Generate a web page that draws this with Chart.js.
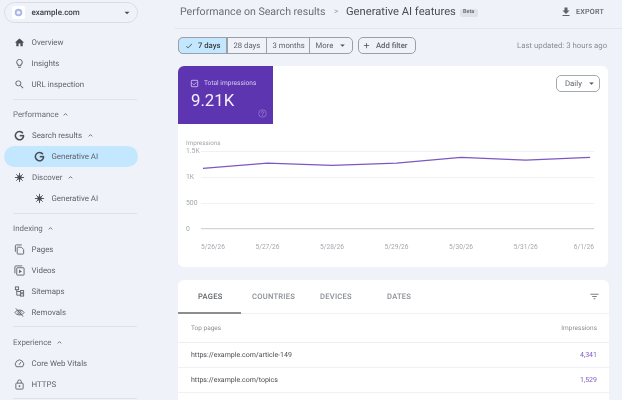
<!DOCTYPE html>
<html>
<head>
<meta charset="utf-8">
<title>Generative AI features</title>
<script src="https://cdn.jsdelivr.net/npm/chart.js@4"></script>
<style>
html, body { margin: 0; padding: 0; }
body { width: 622px; height: 400px; overflow: hidden; position: relative; background: #eff3f9; font-family: Roboto, sans-serif; color: #5f6368; text-rendering: geometricPrecision; }
#page { position: absolute; left: 0; top: 0; width: 622px; height: 400px; overflow: hidden; filter: blur(0.35px); }
.t { position: absolute; white-space: nowrap; line-height: 1; transform: translateY(-50%); }
.box { position: absolute; box-sizing: border-box; }
svg { position: absolute; }
</style>
</head>
<body>
<div id="page"></div>
<script>
// Chart data
const dates = ["5/26/26", "5/27/26", "5/28/26", "5/29/26", "5/30/26", "5/31/26", "6/1/26"];
const impressions = [1177, 1280, 1235, 1280, 1390, 1338, 1390];
const yTicks = [0, 500, 1000, 1500];
const yLabels = ["0", "500", "1K", "1.5K"];

// Page text
const navItems = [
  ["Overview", 31.5, 42.5, "home", 19], ["Insights", 31.5, 63.5, "bulb", 19], ["URL inspection", 31.5, 84.5, "search", 19],
  ["Performance", 13, 114.5], ["Search results", 32, 135.5, "g", 19], ["Generative AI", 51.5, 156.5, "g", 39],
  ["Discover", 32, 177.5, "star", 19], ["Generative AI", 51.5, 198.5, "star", 39],
  ["Indexing", 13, 228.5], ["Pages", 31.5, 249.5, "pages", 19], ["Videos", 31.5, 270.5, "video", 19],
  ["Sitemaps", 31.5, 291.5, "map", 19], ["Removals", 31.5, 312.5, "eye", 19],
  ["Experience", 13, 342.5], ["Core Web Vitals", 31.5, 363.5, "gauge", 19], ["HTTPS", 31.5, 384.5, "lock", 19]
];
const navCarets = [[65, 114], [90, 135], [70, 177], [50, 228], [59, 342]];
const navDividers = [99, 213, 326, 398];
const rangeChips = [["7 days", 178, 49], ["28 days", 227, 39], ["3 months", 266, 43], ["More", 309, 44]];
const tabs = [["PAGES", 198, "#5f6368"], ["COUNTRIES", 252, "#8a8e93"], ["DEVICES", 320, "#8a8e93"], ["DATES", 387, "#8a8e93"]];
const pageRows = [["https://example.com/article-149", "4,341", 355], ["https://example.com/topics", "1,529", 380]];

const icons = {
  home: '<path fill="#4a4d51" d="M10 20v-6h4v6h5v-8h3L12 3 2 12h3v8z"/>',
  bulb: '<path fill="#5f6368" d="M9 21c0 .55.45 1 1 1h4c.55 0 1-.45 1-1v-1H9v1zm3-19C8.14 2 5 5.14 5 9c0 2.38 1.19 4.47 3 5.74V17c0 .55.45 1 1 1h6c.55 0 1-.45 1-1v-2.26c1.81-1.27 3-3.36 3-5.74 0-3.86-3.14-7-7-7zm2.85 11.1l-.85.6V16h-4v-2.3l-.85-.6C7.8 12.16 7 10.63 7 9c0-2.76 2.24-5 5-5s5 2.24 5 5c0 1.63-.8 3.16-2.15 4.1z"/>',
  search: '<path fill="#5f6368" d="M15.5 14h-.79l-.28-.27C15.41 12.59 16 11.11 16 9.5 16 5.91 13.09 3 9.5 3S3 5.91 3 9.5 5.91 16 9.5 16c1.61 0 3.09-.59 4.23-1.57l.27.28v.79l5 4.99L20.49 19l-4.99-5zm-6 0C7.01 14 5 11.99 5 9.5S7.01 5 9.5 5 14 7.01 14 9.5 11.99 14 9.5 14z"/>',
  g: '<path fill="none" stroke="#4a4d51" stroke-width="3.4" d="M19.4 7.2A9 9 0 1 0 21 12.6"/><path fill="none" stroke="#4a4d51" stroke-width="3.4" d="M12.5 12.3H22"/>',
  star: '<g stroke="#4a4d51" stroke-width="2" fill="none"><path d="M12 2v20M2 12h20M5 5l14 14M19 5L5 19"/></g><circle cx="12" cy="12" r="5" fill="#4a4d51"/>',
  pages: '<g fill="none" stroke="#5f6368" stroke-width="2"><path d="M17 2H5a2 2 0 0 0-2 2v13"/><path d="M8 7h8l5 5v9a1 1 0 0 1-1 1H8a1 1 0 0 1-1-1V8a1 1 0 0 1 1-1z"/></g>',
  video: '<g fill="none" stroke="#5f6368" stroke-width="2"><path d="M18 2H4a2 2 0 0 0-2 2v14"/><rect x="6" y="6" width="16" height="16" rx="1"/></g><path fill="#5f6368" d="M11 10v8l6-4z"/>',
  map: '<g fill="none" stroke="#5f6368" stroke-width="2"><rect x="3" y="2" width="7" height="6"/><rect x="14" y="10" width="7" height="5"/><rect x="14" y="17" width="7" height="5"/><path d="M6 8v12h8M6 12h8"/></g>',
  eye: '<g fill="none" stroke="#5f6368" stroke-width="2"><path d="M2 12c4-7 16-7 20 0-4 7-16 7-20 0z"/><circle cx="12" cy="12" r="3.5"/><path d="M4 3l16 18"/></g>',
  gauge: '<g fill="none" stroke="#5f6368" stroke-width="2"><path d="M5 19h14a9 9 0 1 0-14 0z"/><path d="M11 15l4-6"/></g>',
  lock: '<g fill="none" stroke="#5f6368" stroke-width="2"><rect x="4" y="9" width="16" height="13" rx="1.5"/><path d="M8 9V6a4 4 0 0 1 8 0v3"/></g><circle cx="12" cy="15.5" r="2" fill="#5f6368"/>',
  caret: '<path fill="none" stroke="#5f6368" stroke-width="3" d="M6 15l6-6 6 6"/>',
  down: '<path fill="#4a4d51" d="M6 9l6 6 6-6z"/>',
  check: '<path fill="#3c4043" d="M9 16.17L4.83 12l-1.42 1.41L9 19 21 7l-1.41-1.41z"/>',
  plus: '<path fill="#4a4d51" d="M19 13h-6v6h-2v-6H5v-2h6V5h2v6h6z"/>',
  exportIcon: '<path fill="#5f6368" d="M19 9h-4V3H9v6H5l7 7 7-7zM5 18v2h14v-2H5z"/>',
  filter: '<path fill="#7b7f84" d="M3 6h18v2H3zM7 11h10v2H7zM10 16h4v2h-4z"/>',
  tick: '<rect x="3.5" y="3.5" width="17" height="17" rx="2" fill="none" stroke="#e6ddf5" stroke-width="2"/><path fill="none" stroke="#e6ddf5" stroke-width="2" d="M7 12l3.5 3.5L17 9"/>',
  help: '<circle cx="12" cy="12" r="10" fill="none" stroke="#a68fd9" stroke-width="1.6"/><path fill="none" stroke="#a68fd9" stroke-width="2" d="M9 9.5a3 3 0 1 1 4.5 2.6c-1 .6-1.5 1.1-1.5 2.4M12 16.5v2"/>'
};

const page = document.getElementById("page");

function text(str, x, y, size, color, extra) {
  const el = document.createElement("div");
  el.className = "t";
  el.textContent = str;
  el.style.cssText = `left:${x}px;top:${y}px;font-size:${size}px;color:${color};${extra || ""}`;
  page.appendChild(el);
  return el;
}
function box(x, y, w, h, css) {
  const el = document.createElement("div");
  el.className = "box";
  el.style.cssText = `left:${x}px;top:${y}px;width:${w}px;height:${h}px;${css}`;
  page.appendChild(el);
  return el;
}
function line(x, y, w, color) {
  box(x, y, w, 1, `background:${color || "#dfe2e6"}`);
}
function icon(name, cx, cy, size) {
  page.insertAdjacentHTML("beforeend",
    `<svg viewBox="0 0 24 24" width="${size}" height="${size}" style="left:${cx - size / 2}px;top:${cy - size / 2}px">${icons[name]}</svg>`);
}

// Sidebar
box(4, 2, 134, 21, "border:1px solid #d9dde2;border-radius:11px");
box(12, 6, 13, 13, "background:#fff;border-radius:2px");
page.insertAdjacentHTML("beforeend", '<svg viewBox="0 0 24 24" width="9" height="9" style="left:14px;top:8px"><circle cx="12" cy="12" r="10" fill="#aab4e8"/><circle cx="12" cy="12" r="5" fill="#eef0fb"/></svg>');
text("example.com", 31.5, 13, 8, "#3c4043", "font-weight:500");
icon("down", 127, 13, 10);
box(4, 146, 134, 21, "background:#c2e7ff;border-radius:11px");
navItems.forEach(([label, x, y, ic, ix]) => {
  text(label, x, y, 7.9, ic ? "#5f6368" : "#6a6e73");
  if (ic) icon(ic, ix, y - 0.5, 11);
});
navCarets.forEach(([x, y]) => icon("caret", x, y, 7));
navDividers.forEach(y => line(13, y, 124));

// Header
text("Performance on Search results", 180, 12, 10.6, "#6a6e73");
text(">", 334, 12, 8.5, "#9aa0a6");
text("Generative AI features", 346, 12, 11.2, "#4a4d51");
box(460, 9, 18, 8, "background:#dfe3e9;border-radius:2px");
text("Beta", 463, 13, 5.5, "#5f6368", "font-weight:500");
icon("exportIcon", 566, 12, 12);
text("EXPORT", 576, 12, 7.2, "#5f6368", "font-weight:500;letter-spacing:.2px");
line(175, 28, 447, "#e3e6ea");

// Date chips
box(178, 37, 175, 17, "border:1px solid #9aa0a6;border-radius:5px");
box(178, 37, 49, 17, "background:#c2e7ff;border:1px solid #9aa0a6;border-radius:5px 0 0 5px");
rangeChips.forEach(([label, x], i) => {
  if (i > 0) box(x, 37, 1, 17, "background:#9aa0a6");
  text(label, x + (i === 0 ? 20 : 6.5), 45.5, 7.7, i === 0 ? "#3c4043" : "#5f6368", i === 0 ? "font-weight:500" : "");
});
icon("check", 189, 46, 8);
icon("down", 342, 45.5, 9);
box(358, 37, 58, 17, "border:1px solid #9aa0a6;border-radius:5px");
icon("plus", 366, 45.5, 9);
text("Add filter", 376, 45.5, 7.7, "#5f6368", "font-weight:500");
text("Last updated: 3 hours ago", 517, 45.5, 7.8, "#8a8e93");

// Chart card
box(178, 66, 430, 201, "background:#fff;border-radius:6px");
box(178, 66, 95, 58, "background:#5e35b1;border-radius:6px 0 0 0");
icon("tick", 194.5, 83, 9);
text("Total impressions", 204, 83, 6.6, "#d8cdf0");
text("9.21K", 191, 101, 16.8, "#f3effb");
icon("help", 262, 113.5, 9);
box(556, 75, 44, 17, "border:1px solid #a5a9ae;border-radius:5px");
text("Daily", 565, 83.5, 7.8, "#5f6368");
icon("down", 591, 83.5, 9);
text("Impressions", 186, 142.5, 6.3, "#a3a7ac");

const holder = box(178, 124, 430, 143, "");
const canvas = document.createElement("canvas");
canvas.width = 430;
canvas.height = 143;
holder.appendChild(canvas);

// Table card
box(178, 280, 431, 130, "background:#fff;border-radius:6px");
tabs.forEach(([label, x, color]) => text(label, x, 297, 7.6, color, "font-weight:500;letter-spacing:.25px"));
line(178, 313, 431, "#f0f1f3");
box(178, 312, 63, 1.5, "background:#8a8e93");
icon("filter", 594, 296.5, 11);
text("Top pages", 191, 328, 6.5, "#8a8e93");
text("Impressions", 0, 328, 6.5, "#8a8e93", "left:auto;right:25px");
line(178, 342, 431, "#eceef0");
pageRows.forEach(([url, val, y]) => {
  text(url, 191, y, 7, "#4a4d51");
  text(val, 0, y, 7, "#7e57c2", "left:auto;right:25px");
  line(178, y + 12, 431, "#f0f1f3");
});

// Chart
Chart.defaults.font.family = "Roboto, sans-serif";
const xMin = -0.03, xMax = 6.06;

new Chart(canvas, {
  type: "line",
  data: {
    datasets: [{
      data: impressions.map((v, i) => ({ x: i, y: v })),
      borderColor: "#7e57c2",
      borderWidth: 1.3,
      pointRadius: 0,
      tension: 0
    }]
  },
  options: {
    responsive: false,
    animation: false,
    events: [],
    layout: { padding: { left: 8, right: 14, top: 27.7, bottom: 0 } },
    plugins: { legend: { display: false }, tooltip: { enabled: false } },
    scales: {
      x: {
        type: "linear",
        min: xMin,
        max: xMax,
        afterBuildTicks: axis => {
          // end labels sit flush with the axis ends, as in the original
          axis.ticks = dates.map((d, i) => ({ value: i === 0 ? xMin : i === dates.length - 1 ? xMax : i }));
        },
        afterFit: axis => { axis.height = 38; },
        grid: { display: false },
        border: { display: false },
        ticks: {
          align: "inner",
          autoSkip: false,
          maxRotation: 0,
          padding: 6,
          color: "#a3a7ac",
          font: { size: 6.6 },
          callback: (v, i) => dates[i]
        }
      },
      y: {
        min: 0,
        max: 1500,
        afterBuildTicks: axis => { axis.ticks = yTicks.map(v => ({ value: v })); },
        afterFit: axis => { axis.width = 15; },
        grid: {
          drawTicks: false,
          color: ctx => ctx.tick.value === 0 ? "#d3d5d9" : "#f0f1f4",
          lineWidth: ctx => ctx.tick.value === 0 ? 1.3 : 1
        },
        border: { display: false },
        ticks: {
          crossAlign: "far",
          padding: 2,
          color: "#a3a7ac",
          font: { size: 6.8 },
          callback: (v, i) => yLabels[i]
        }
      }
    }
  }
});
</script>
</body>
</html>
